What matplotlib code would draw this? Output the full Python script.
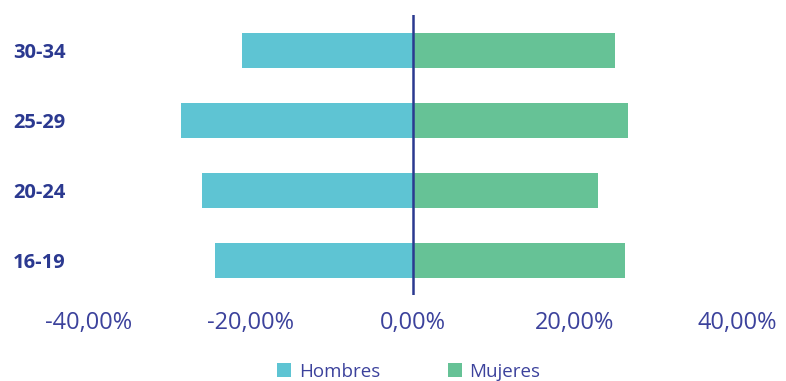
"""
Pirámide por edad y sexo (Hombres a la izquierda, Mujeres a la derecha).
"""

import matplotlib
matplotlib.use("Agg")
import matplotlib.pyplot as plt
from matplotlib.ticker import FuncFormatter

plt.rcParams["font.family"] = ["Open Sans", "DejaVu Sans"]

AGE_GROUPS = ["16-19", "20-24", "25-29", "30-34"]
HOMBRES = [24.4, 26.0, 28.7, 21.1]
MUJERES = [26.2, 22.8, 26.5, 24.9]
X_TICKS = [-40, -20, 0, 20, 40]

COLOR_H = "#5ec4d3"
COLOR_M = "#66c296"
NAVY = "#2b3990"
TICK_COLOR = "#3c429c"


def pct_label(v, _pos=None):
    """Format as Spanish-style percentage with two decimals."""
    return f"{v:.2f}".replace(".", ",") + "%"


fig = plt.figure(figsize=(7.86, 3.81), dpi=100)
ax = fig.add_axes([89 / 786, 0.225, 648 / 786, 0.735])

ypos = list(range(len(AGE_GROUPS)))
ax.barh(ypos, [-v for v in HOMBRES], height=0.5, color=COLOR_H, label="Hombres")
ax.barh(ypos, MUJERES, height=0.5, color=COLOR_M, label="Mujeres")
ax.axvline(0, color=NAVY, linewidth=1.8)

ax.set_xlim(-40, 40)
ax.set_ylim(-0.5, 3.5)
ax.set_xticks(X_TICKS)
ax.xaxis.set_major_formatter(FuncFormatter(pct_label))
ax.set_yticks(ypos)
ax.set_yticklabels(AGE_GROUPS, fontsize=14.5, fontweight="bold", color=NAVY)
ax.tick_params(axis="x", length=0, pad=11, labelsize=17, labelcolor=TICK_COLOR)
ax.tick_params(axis="y", length=0, pad=17)

for side in ax.spines.values():
    side.set_visible(False)

fig.legend(loc="center", bbox_to_anchor=(0.52, 0.024), ncol=2, frameon=False,
           fontsize=13.5, labelcolor=TICK_COLOR, handlelength=0.75,
           handleheight=0.75, handletextpad=0.4, columnspacing=3.6)

fig.savefig("out.png", dpi=100)
plt.close(fig)
